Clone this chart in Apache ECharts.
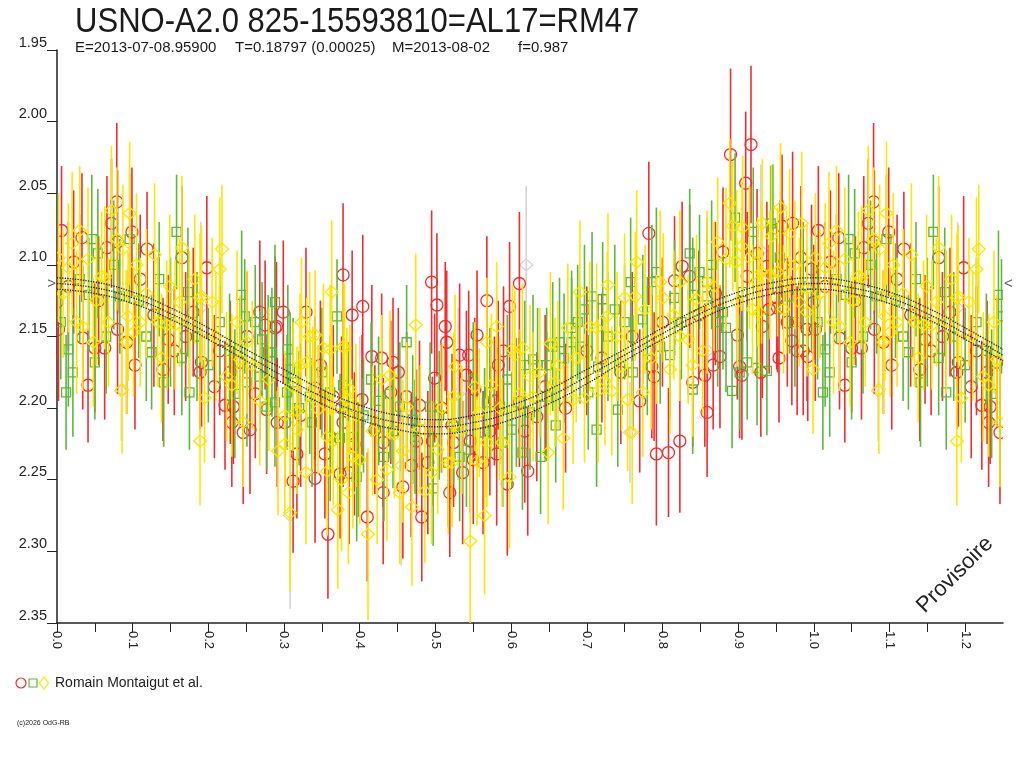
<!DOCTYPE html>
<html>
<head>
<meta charset="utf-8">
<script src="https://cdn.jsdelivr.net/npm/echarts@6/dist/echarts.min.js"></script>
<style>
  html, body { margin: 0; padding: 0; background: #fff; }
  #chart { width: 1024px; height: 768px; }
</style>
</head>
<body>
<div id="chart"></div>
<script>
// observations: [phase, magnitude, error]
var redObs = [
  [0.000,2.126,0.040],[0.006,2.076,0.045],[0.002,2.145,0.050],[0.033,2.081,0.045],[0.034,2.151,0.050],
  [0.041,2.184,0.040],[0.050,2.158,0.045],[0.063,2.158,0.050],[0.072,2.071,0.045],[0.079,2.056,0.055],
  [0.080,2.084,0.050],[0.080,2.145,0.045],[0.092,2.154,0.050],[0.099,2.077,0.045],[0.103,2.170,0.045],
  [0.119,2.089,0.040],[0.140,2.173,0.050],[0.147,2.152,0.045],[0.165,2.095,0.050],[0.180,2.133,0.045],
  [0.189,2.175,0.040],[0.191,2.168,0.045],[0.198,2.102,0.050],[0.222,2.198,0.045],[0.229,2.175,0.050],
  [0.231,2.210,0.045],[0.233,2.199,0.040],[0.242,2.168,0.045],[0.246,2.217,0.050],[0.251,2.150,0.045],
  [0.255,2.215,0.045],[0.268,2.133,0.050],[0.275,2.142,0.045],[0.277,2.201,0.045],[0.288,2.144,0.050],
  [0.290,2.143,0.045],[0.291,2.210,0.045],[0.299,2.133,0.050],[0.301,2.210,0.045],[0.312,2.251,0.050],
  [0.317,2.232,0.045],[0.329,2.133,0.045],[0.341,2.186,0.050],[0.341,2.249,0.045],[0.354,2.232,0.045],
  [0.358,2.288,0.045],[0.365,2.192,0.050],[0.374,2.246,0.045],[0.376,2.200,0.050],[0.378,2.107,0.050],
  [0.378,2.210,0.045],[0.390,2.135,0.045],[0.393,2.225,0.050],[0.403,2.194,0.045],[0.404,2.129,0.050],
  [0.410,2.276,0.045],[0.416,2.164,0.050],[0.429,2.165,0.045],[0.431,2.259,0.050],[0.431,2.224,0.045],
  [0.441,2.189,0.050],[0.444,2.168,0.045],[0.451,2.175,0.045],[0.457,2.255,0.050],[0.462,2.192,0.045],
  [0.475,2.223,0.050],[0.479,2.198,0.045],[0.482,2.276,0.045],[0.490,2.238,0.050],[0.495,2.112,0.050],
  [0.496,2.223,0.045],[0.499,2.179,0.045],[0.502,2.128,0.050],[0.513,2.143,0.045],[0.515,2.154,0.050],
  [0.519,2.259,0.045],[0.522,2.212,0.050],[0.524,2.224,0.045],[0.532,2.163,0.050],[0.541,2.177,0.045],
  [0.544,2.163,0.045],[0.546,2.223,0.050],[0.550,2.236,0.045],[0.552,2.187,0.050],[0.555,2.149,0.045],
  [0.563,2.238,0.050],[0.568,2.125,0.045],[0.572,2.216,0.045],[0.581,2.232,0.050],[0.583,2.170,0.045],
  [0.595,2.253,0.050],[0.598,2.129,0.045],[0.611,2.113,0.050],[0.611,2.196,0.045],[0.618,2.216,0.050],
  [0.622,2.244,0.045],[0.634,2.206,0.045],[0.700,2.160,0.045],[0.745,2.175,0.050],[0.760,2.150,0.045],
  [0.782,2.078,0.050],[0.786,2.171,0.050],[0.789,2.178,0.045],[0.792,2.232,0.050],[0.808,2.231,0.045],
  [0.816,2.111,0.045],[0.823,2.223,0.050],[0.826,2.101,0.045],[0.836,2.108,0.050],[0.840,2.182,0.045],
  [0.856,2.177,0.050],[0.859,2.203,0.045],[0.867,2.170,0.045],[0.876,2.164,0.050],[0.880,2.091,0.045],
  [0.890,2.023,0.060],[0.899,2.149,0.045],[0.902,2.171,0.050],[0.905,2.177,0.045],[0.910,2.043,0.050],
  [0.912,2.108,0.045],[0.917,2.016,0.055],[0.925,2.092,0.045],[0.932,2.143,0.050],[0.938,2.101,0.045],
  [0.941,2.131,0.045],[0.951,2.123,0.050],[0.952,2.130,0.045],[0.954,2.165,0.045],[0.958,2.073,0.050],
  [0.959,2.100,0.045],[0.971,2.153,0.045],[0.972,2.071,0.050],[0.978,2.160,0.045],[0.986,2.160,0.045],
  [0.991,2.145,0.050],[0.992,2.164,0.045],[0.997,2.103,0.045],
  [0.015,2.115,0.045],[0.022,2.098,0.050],[0.055,2.125,0.045],[0.066,2.088,0.050],[0.110,2.110,0.045],
  [0.128,2.135,0.050],[0.155,2.160,0.045],[0.170,2.150,0.045],[0.208,2.185,0.050],[0.215,2.160,0.045],
  [0.262,2.190,0.045],[0.322,2.205,0.050],[0.348,2.170,0.045],[0.386,2.245,0.050],[0.420,2.215,0.045],
  [0.468,2.240,0.050],[0.508,2.200,0.045],[0.536,2.245,0.050],[0.578,2.195,0.045],[0.590,2.160,0.045],
  [0.645,2.185,0.050],[0.672,2.200,0.045],[0.720,2.165,0.045],[0.770,2.195,0.050],[0.800,2.140,0.045],
  [0.848,2.135,0.045],[0.870,2.120,0.050],[0.930,2.175,0.045],[0.965,2.140,0.045],[0.983,2.095,0.050]
];
var greenObs = [
  [0.012,2.189,0.040],[0.015,2.159,0.040],[0.021,2.175,0.045],[0.042,2.121,0.040],[0.046,2.082,0.045],
  [0.050,2.168,0.040],[0.054,2.092,0.045],[0.083,2.122,0.040],[0.096,2.082,0.045],[0.125,2.161,0.040],
  [0.141,2.182,0.045],[0.158,2.077,0.040],[0.173,2.119,0.045],[0.175,2.189,0.040],[0.244,2.121,0.045],
  [0.248,2.136,0.040],[0.251,2.182,0.045],[0.262,2.140,0.040],[0.268,2.178,0.045],[0.271,2.152,0.040],
  [0.277,2.199,0.045],[0.279,2.161,0.040],[0.284,2.161,0.045],[0.288,2.126,0.040],[0.288,2.196,0.045],
  [0.304,2.189,0.040],[0.305,2.159,0.045],[0.308,2.173,0.040],[0.312,2.182,0.045],[0.334,2.192,0.040],
  [0.337,2.210,0.045],[0.361,2.189,0.040],[0.361,2.220,0.045],[0.370,2.136,0.040],[0.374,2.221,0.045],
  [0.378,2.184,0.040],[0.385,2.199,0.045],[0.391,2.220,0.040],[0.396,2.248,0.045],[0.398,2.236,0.040],
  [0.415,2.180,0.040],[0.432,2.234,0.045],[0.440,2.190,0.045],[0.444,2.216,0.040],[0.453,2.199,0.045],
  [0.462,2.154,0.040],[0.470,2.208,0.045],[0.473,2.220,0.040],[0.493,2.199,0.045],[0.497,2.256,0.040],
  [0.517,2.238,0.045],[0.524,2.213,0.040],[0.532,2.234,0.045],[0.541,2.229,0.040],[0.565,2.217,0.045],
  [0.568,2.196,0.040],[0.572,2.189,0.045],[0.585,2.199,0.040],[0.589,2.224,0.045],[0.601,2.215,0.040],
  [0.607,2.196,0.045],[0.615,2.231,0.040],[0.618,2.170,0.045],[0.625,2.203,0.040],[0.629,2.166,0.045],
  [0.639,2.234,0.040],[0.647,2.192,0.045],[0.647,2.170,0.040],[0.655,2.157,0.045],[0.659,2.212,0.040],
  [0.664,2.154,0.045],[0.680,2.144,0.040],[0.680,2.154,0.045],[0.691,2.157,0.040],[0.697,2.131,0.045],
  [0.702,2.189,0.040],[0.707,2.122,0.045],[0.713,2.215,0.040],[0.715,2.171,0.045],[0.721,2.124,0.040],
  [0.737,2.131,0.045],[0.741,2.201,0.040],[0.758,2.112,0.045],[0.761,2.175,0.040],[0.774,2.138,0.045],
  [0.786,2.112,0.040],[0.792,2.105,0.045],[0.797,2.157,0.040],[0.810,2.163,0.045],[0.816,2.123,0.040],
  [0.836,2.092,0.045],[0.840,2.121,0.040],[0.840,2.187,0.045],[0.849,2.105,0.040],[0.859,2.112,0.045],
  [0.859,2.122,0.040],[0.873,2.140,0.045],[0.880,2.133,0.040],[0.884,2.144,0.045],[0.892,2.188,0.040],
  [0.896,2.067,0.045],[0.902,2.175,0.040],[0.906,2.119,0.045],[0.912,2.168,0.040],[0.920,2.077,0.045],
  [0.925,2.172,0.040],[0.938,2.174,0.045],[0.943,2.071,0.040],[0.946,2.075,0.045],[0.968,2.122,0.040],
  [0.986,2.115,0.045],[0.997,2.120,0.040],
  [0.005,2.140,0.040],[0.030,2.110,0.045],[0.065,2.150,0.040],[0.075,2.100,0.045],[0.108,2.125,0.040],
  [0.118,2.150,0.045],[0.135,2.110,0.040],[0.150,2.140,0.045],[0.165,2.165,0.040],[0.185,2.150,0.045],
  [0.200,2.170,0.040],[0.215,2.140,0.045],[0.228,2.160,0.040],[0.235,2.190,0.045],[0.320,2.200,0.040],
  [0.350,2.175,0.045],[0.405,2.205,0.040],[0.425,2.195,0.045],[0.480,2.215,0.040],[0.505,2.205,0.045],
  [0.550,2.180,0.040],[0.595,2.180,0.045],[0.635,2.170,0.040],[0.670,2.165,0.045],[0.688,2.140,0.040],
  [0.728,2.150,0.045],[0.750,2.140,0.040],[0.780,2.160,0.045],[0.825,2.140,0.040],[0.865,2.100,0.045],
  [0.955,2.095,0.040],[0.975,2.140,0.045]
];
var yellowObs = [
  [0.002,2.095,0.045],[0.015,2.102,0.045],[0.026,2.140,0.050],[0.030,2.076,0.045],[0.034,2.143,0.045],
  [0.041,2.096,0.050],[0.048,2.154,0.045],[0.059,2.108,0.045],[0.063,2.109,0.050],[0.072,2.062,0.045],
  [0.079,2.082,0.050],[0.086,2.187,0.045],[0.087,2.089,0.045],[0.092,2.154,0.050],[0.094,2.136,0.045],
  [0.096,2.064,0.050],[0.101,2.147,0.045],[0.110,2.140,0.045],[0.129,2.093,0.050],[0.133,2.140,0.045],
  [0.145,2.142,0.045],[0.149,2.115,0.050],[0.156,2.142,0.045],[0.162,2.126,0.045],[0.165,2.088,0.050],
  [0.189,2.123,0.045],[0.189,2.223,0.045],[0.191,2.122,0.050],[0.195,2.193,0.045],[0.205,2.126,0.045],
  [0.215,2.103,0.050],[0.218,2.089,0.045],[0.224,2.178,0.045],[0.231,2.184,0.050],[0.242,2.166,0.045],
  [0.246,2.210,0.045],[0.251,2.154,0.050],[0.301,2.205,0.045],[0.301,2.225,0.050],[0.308,2.273,0.055],
  [0.317,2.202,0.045],[0.317,2.215,0.045],[0.321,2.170,0.050],[0.323,2.140,0.045],[0.329,2.245,0.050],
  [0.330,2.168,0.045],[0.334,2.150,0.045],[0.338,2.193,0.050],[0.341,2.149,0.045],[0.345,2.201,0.045],
  [0.352,2.158,0.045],[0.357,2.220,0.050],[0.357,2.244,0.045],[0.361,2.159,0.045],[0.363,2.119,0.050],
  [0.363,2.201,0.045],[0.365,2.223,0.045],[0.371,2.271,0.055],[0.376,2.250,0.050],[0.378,2.157,0.045],
  [0.380,2.158,0.045],[0.383,2.194,0.050],[0.385,2.259,0.050],[0.387,2.187,0.045],[0.391,2.234,0.050],
  [0.400,2.236,0.045],[0.411,2.288,0.060],[0.417,2.216,0.045],[0.429,2.180,0.045],[0.436,2.243,0.050],
  [0.440,2.177,0.045],[0.446,2.218,0.045],[0.453,2.259,0.050],[0.462,2.199,0.045],[0.469,2.269,0.055],
  [0.474,2.142,0.050],[0.486,2.258,0.050],[0.503,2.229,0.045],[0.509,2.200,0.045],[0.517,2.238,0.050],
  [0.522,2.238,0.045],[0.524,2.192,0.045],[0.526,2.171,0.050],[0.546,2.293,0.060],[0.555,2.237,0.045],
  [0.558,2.203,0.045],[0.565,2.275,0.055],[0.568,2.154,0.045],[0.568,2.224,0.045],[0.574,2.184,0.050],
  [0.581,2.143,0.045],[0.588,2.224,0.045],[0.598,2.248,0.050],[0.602,2.159,0.045],[0.605,2.163,0.045],
  [0.615,2.158,0.045],[0.625,2.178,0.050],[0.629,2.192,0.045],[0.649,2.231,0.050],[0.658,2.182,0.045],
  [0.662,2.170,0.045],[0.669,2.221,0.050],[0.675,2.144,0.045],[0.682,2.194,0.045],[0.691,2.119,0.050],
  [0.697,2.193,0.045],[0.704,2.143,0.045],[0.713,2.144,0.045],[0.715,2.188,0.050],[0.724,2.181,0.045],
  [0.727,2.136,0.045],[0.728,2.114,0.050],[0.733,2.188,0.045],[0.746,2.171,0.045],[0.750,2.123,0.045],
  [0.754,2.194,0.050],[0.760,2.217,0.050],[0.764,2.122,0.045],[0.766,2.098,0.050],[0.774,2.189,0.045],
  [0.777,2.131,0.045],[0.792,2.152,0.045],[0.797,2.112,0.050],[0.801,2.123,0.045],[0.810,2.173,0.045],
  [0.823,2.112,0.050],[0.823,2.150,0.045],[0.834,2.152,0.045],[0.840,2.170,0.050],[0.845,2.124,0.045],
  [0.853,2.160,0.045],[0.859,2.112,0.050],[0.859,2.131,0.045],[0.873,2.084,0.045],[0.884,2.096,0.050],
  [0.889,2.057,0.045],[0.893,2.073,0.045],[0.898,2.098,0.050],[0.899,2.126,0.045],[0.905,2.087,0.045],
  [0.906,2.074,0.050],[0.919,2.131,0.045],[0.926,2.112,0.045],[0.928,2.133,0.045],[0.931,2.105,0.050],
  [0.932,2.071,0.045],[0.942,2.107,0.045],[0.944,2.080,0.050],[0.952,2.105,0.045],[0.956,2.060,0.045],
  [0.960,2.131,0.045],[0.964,2.112,0.050],[0.968,2.078,0.045],[0.981,2.126,0.045],[0.984,2.071,0.050],
  [0.991,2.117,0.045],[0.991,2.133,0.045],[0.999,2.173,0.045],
  [0.008,2.120,0.045],[0.020,2.085,0.050],[0.052,2.125,0.045],[0.068,2.140,0.045],[0.105,2.100,0.050],
  [0.118,2.120,0.045],[0.138,2.165,0.045],[0.175,2.140,0.050],[0.182,2.110,0.045],[0.210,2.150,0.045],
  [0.238,2.140,0.050],[0.258,2.170,0.045],[0.268,2.195,0.045],[0.280,2.180,0.050],[0.292,2.230,0.045],
  [0.312,2.185,0.045],[0.395,2.205,0.050],[0.423,2.250,0.045],[0.457,2.230,0.050],[0.480,2.215,0.045],
  [0.495,2.245,0.050],[0.535,2.215,0.045],[0.552,2.185,0.045],[0.585,2.200,0.050],[0.612,2.190,0.045],
  [0.638,2.175,0.045],[0.652,2.155,0.050],[0.686,2.165,0.045],[0.740,2.150,0.045],[0.785,2.165,0.050],
  [0.815,2.135,0.045],[0.868,2.115,0.045],[0.915,2.095,0.050],[0.975,2.100,0.045]
];
var grayObs = [
  [0.085,2.188,0.035],[0.190,2.130,0.060],[0.308,2.275,0.065],[0.400,2.210,0.060],[0.455,2.240,0.070],
  [0.530,2.190,0.060],[0.620,2.100,0.055],[0.757,2.217,0.035],[0.860,2.160,0.060],[0.930,2.090,0.060]
];

// fitted light curve
var modelPhase = [0.00,0.05,0.10,0.15,0.20,0.25,0.30,0.35,0.40,0.45,0.50,0.55,0.60,
                  0.65,0.70,0.75,0.80,0.85,0.90,0.95,1.00,1.05,1.10,1.15,1.20,1.25];
var modelMid = [2.113,2.116,2.123,2.134,2.148,2.163,2.178,2.192,2.203,2.210,2.213,2.210,2.203,
                2.192,2.178,2.163,2.148,2.134,2.123,2.116,2.113,2.116,2.123,2.134,2.148,2.163];
var modelHi  = [2.109,2.112,2.119,2.130,2.144,2.159,2.173,2.187,2.198,2.205,2.208,2.205,2.198,
                2.187,2.173,2.159,2.144,2.130,2.119,2.112,2.109,2.112,2.119,2.130,2.144,2.159];
var modelLo  = [2.117,2.120,2.127,2.138,2.152,2.167,2.183,2.197,2.208,2.215,2.218,2.215,2.208,
                2.197,2.183,2.167,2.152,2.138,2.127,2.120,2.117,2.120,2.127,2.138,2.152,2.167];

var yTicks = [1.95, 2.00, 2.05, 2.10, 2.15, 2.20, 2.25, 2.30, 2.35];
var maxLevel = 2.113;

var titleText = 'USNO-A2.0 825-15593810=AL17=RM47';
var subParts = ['E=2013-07-08.95900', 'T=0.18797 (0.00025)', 'M=2013-08-02', 'f=0.987'];
var subX = [75, 235, 392, 518];

// phase diagram repeats the start of the cycle after 1.0
function fold(obs) {
  var extra = obs.filter(function (d) { return d[0] <= 0.25; })
                 .map(function (d) { return [d[0] + 1, d[1], d[2]]; });
  return obs.concat(extra);
}

function errSeries(name, obs, color, shape, z) {
  return {
    name: name,
    type: 'custom',
    clip: true,
    z: z,
    data: fold(obs),
    encode: { x: 0, y: 1 },
    renderItem: function (params, api) {
      var ph = api.value(0), m = api.value(1), e = api.value(2);
      var c = api.coord([ph, m]);
      var a = api.coord([ph, m - e]);
      var b = api.coord([ph, m + e]);
      var mk;
      if (shape === 'circle') {
        mk = { type: 'circle', shape: { cx: c[0], cy: c[1], r: 6 } };
      } else if (shape === 'square') {
        mk = { type: 'rect', shape: { x: c[0] - 4.5, y: c[1] - 4.5, width: 9, height: 9 } };
      } else {
        mk = { type: 'polygon', shape: { points: [[c[0], c[1] - 6], [c[0] + 6.5, c[1]], [c[0], c[1] + 6], [c[0] - 6.5, c[1]]] } };
      }
      mk.style = { fill: 'none', stroke: color, lineWidth: 1.3 };
      return {
        type: 'group',
        children: [
          { type: 'line', shape: { x1: c[0], y1: a[1], x2: c[0], y2: b[1] }, style: { stroke: color, lineWidth: 1.6 } },
          mk
        ]
      };
    }
  };
}

function modelLine(vals) {
  return {
    type: 'line',
    z: 10,
    smooth: true,
    symbol: 'none',
    silent: true,
    data: modelPhase.map(function (p, i) { return [p, vals[i]]; }),
    lineStyle: { color: '#222', width: 1.3, type: 'dotted' }
  };
}

var chart = echarts.init(document.getElementById('chart'));
var font = "'Liberation Sans', Arial, sans-serif";

var graphics = [
  // condensed title, as in the original
  { type: 'text', x: 75, y: 22, scaleX: 0.887, style: { text: titleText, font: '35px ' + font, fill: '#1a1a1a', verticalAlign: 'middle' } },
  { type: 'circle', shape: { cx: 21, cy: 683, r: 5 }, style: { fill: 'none', stroke: '#f22d2d', lineWidth: 1.2 } },
  { type: 'rect', shape: { x: 29, y: 679, width: 8, height: 8 }, style: { fill: 'none', stroke: '#5cb83c', lineWidth: 1.2 } },
  { type: 'polygon', shape: { points: [[44, 677], [48.5, 683], [44, 689], [39.5, 683]] }, style: { fill: 'none', stroke: '#ffe500', lineWidth: 1.2 } },
  { type: 'text', x: 55, y: 683, style: { text: 'Romain Montaigut et al.', font: '14px ' + font, fill: '#222', verticalAlign: 'middle' } },
  { type: 'text', x: 17, y: 723, style: { text: '(c)2026 OdG-RB', font: '7px ' + font, fill: '#222', verticalAlign: 'middle' } },
  { type: 'text', x: 955, y: 575, rotation: Math.PI / 4, style: { text: 'Provisoire', font: '22px ' + font, fill: '#222', align: 'center', verticalAlign: 'middle' } }
];
subParts.forEach(function (s, i) {
  graphics.push({ type: 'text', x: subX[i], y: 48, style: { text: s, font: '15px ' + font, fill: '#1a1a1a', verticalAlign: 'middle' } });
});

chart.setOption({
  animation: false,
  backgroundColor: '#fff',
  grid: { left: 57, right: 21, top: 50, bottom: 145 },
  xAxis: {
    type: 'value',
    min: 0,
    max: 1.25,
    interval: 0.05,
    axisLine: { lineStyle: { color: '#222', width: 1.5 } },
    axisTick: { show: true, length: 9, lineStyle: { color: '#222' } },
    axisLabel: {
      rotate: -90,
      margin: 8,
      fontFamily: font,
      fontSize: 13,
      color: '#222',
      showMaxLabel: false,
      formatter: function (v) {
        return Math.round(v * 100) % 10 === 0 ? v.toFixed(1) : '';
      }
    },
    splitLine: { show: false }
  },
  yAxis: {
    type: 'value',
    inverse: true,
    min: yTicks[0],
    max: yTicks[yTicks.length - 1],
    interval: 0.05,
    axisLine: { show: true, lineStyle: { color: '#222', width: 1.5 } },
    axisTick: { show: true, length: 10, lineStyle: { color: '#222' } },
    axisLabel: {
      margin: 10,
      verticalAlign: 'bottom',
      fontFamily: font,
      fontSize: 14.5,
      color: '#222',
      formatter: function (v) { return v.toFixed(2); }
    },
    splitLine: { show: false }
  },
  series: [
    errSeries('gray', grayObs, '#d4d4d4', 'diamond', 1),
    errSeries('red', redObs, '#f22d2d', 'circle', 2),
    errSeries('green', greenObs, '#5cb83c', 'square', 3),
    errSeries('yellow', yellowObs, '#ffe500', 'diamond', 4),
    modelLine(modelHi),
    modelLine(modelMid),
    modelLine(modelLo),
    {
      type: 'scatter',
      z: 11,
      symbolSize: 0,
      silent: true,
      data: [
        { value: [0, maxLevel], label: { show: true, position: 'left', formatter: '>', distance: 1 } },
        { value: [1.25, maxLevel], label: { show: true, position: 'right', formatter: '<', distance: 1 } }
      ],
      label: { fontFamily: font, fontSize: 15, color: '#333' }
    }
  ],
  graphic: graphics
});
</script>
</body>
</html>
